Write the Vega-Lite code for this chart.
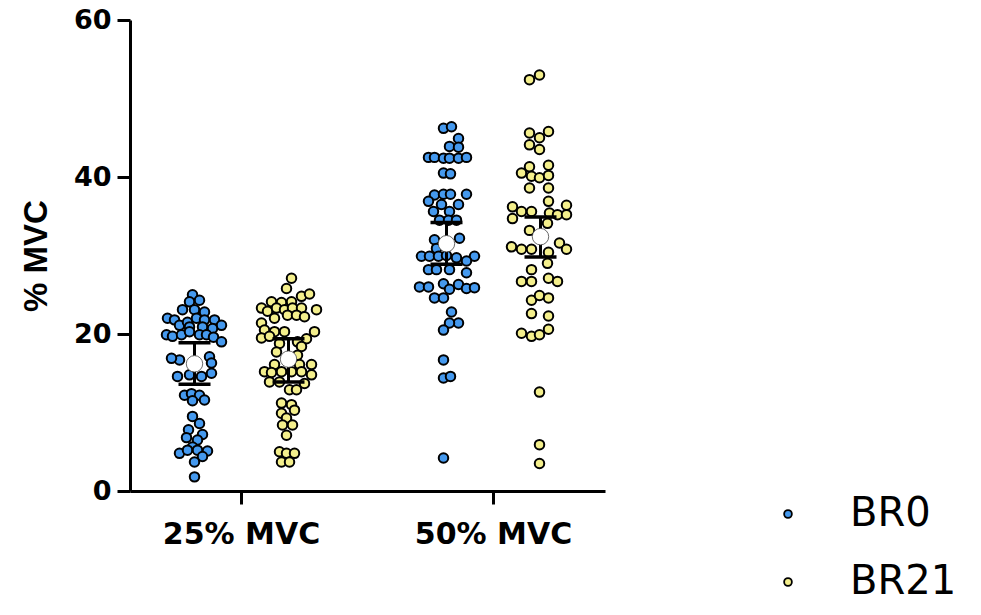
{
  "$schema": "https://vega.github.io/schema/vega-lite/v6.json",
  "autosize": "none",
  "padding": {"left": 130, "top": 20, "right": 376, "bottom": 124},
  "width": 475,
  "height": 471,
  "background": "white",
  "config": {
    "view": {"stroke": null},
    "font": "DejaVu Sans",
    "axis": {"domainColor": "black", "tickColor": "black", "labelColor": "black", "titleColor": "black", "domainWidth": 3, "tickWidth": 3, "grid": false, "labelFont": "DejaVu Sans", "titleFont": "Liberation Sans", "labelFontWeight": "bold", "titleFontWeight": "bold"}
  },
  "datasets": {
    "pts": [
      {"c":"25% MVC","g":"BR0","v":25.0,"j":-0.2},{"c":"25% MVC","g":"BR0","v":24.3,"j":0.5},{"c":"25% MVC","g":"BR0","v":24.1,"j":-0.5},
      {"c":"25% MVC","g":"BR0","v":23.1,"j":-1.2},{"c":"25% MVC","g":"BR0","v":23.1,"j":0},{"c":"25% MVC","g":"BR0","v":22.8,"j":1.0},
      {"c":"25% MVC","g":"BR0","v":22.0,"j":-2.7},{"c":"25% MVC","g":"BR0","v":21.8,"j":-2.0},{"c":"25% MVC","g":"BR0","v":21.1,"j":-1.5},
      {"c":"25% MVC","g":"BR0","v":21.5,"j":-0.7},{"c":"25% MVC","g":"BR0","v":22.0,"j":0.2},{"c":"25% MVC","g":"BR0","v":21.8,"j":1.0},
      {"c":"25% MVC","g":"BR0","v":21.8,"j":2.0},{"c":"25% MVC","g":"BR0","v":21.1,"j":2.7},{"c":"25% MVC","g":"BR0","v":20.7,"j":1.8},
      {"c":"25% MVC","g":"BR0","v":20.9,"j":0.8},{"c":"25% MVC","g":"BR0","v":20.9,"j":-0.5},{"c":"25% MVC","g":"BR0","v":19.9,"j":-2.8},
      {"c":"25% MVC","g":"BR0","v":19.7,"j":-2.2},{"c":"25% MVC","g":"BR0","v":19.9,"j":-1.3},{"c":"25% MVC","g":"BR0","v":20.3,"j":-0.5},
      {"c":"25% MVC","g":"BR0","v":19.9,"j":0.5},{"c":"25% MVC","g":"BR0","v":19.9,"j":1.2},{"c":"25% MVC","g":"BR0","v":19.6,"j":1.9},
      {"c":"25% MVC","g":"BR0","v":19.0,"j":2.7},{"c":"25% MVC","g":"BR0","v":16.7,"j":-1.5},{"c":"25% MVC","g":"BR0","v":16.9,"j":-2.3},
      {"c":"25% MVC","g":"BR0","v":17.1,"j":1.5},{"c":"25% MVC","g":"BR0","v":16.3,"j":1.7},{"c":"25% MVC","g":"BR0","v":14.6,"j":-1.7},
      {"c":"25% MVC","g":"BR0","v":14.8,"j":-0.5},{"c":"25% MVC","g":"BR0","v":14.6,"j":0.7},{"c":"25% MVC","g":"BR0","v":15.0,"j":1.7},
      {"c":"25% MVC","g":"BR0","v":12.2,"j":-1.0},{"c":"25% MVC","g":"BR0","v":12.4,"j":-0.3},{"c":"25% MVC","g":"BR0","v":12.2,"j":0.5},
      {"c":"25% MVC","g":"BR0","v":11.6,"j":1.0},{"c":"25% MVC","g":"BR0","v":11.5,"j":-0.2},{"c":"25% MVC","g":"BR0","v":9.5,"j":-0.2},
      {"c":"25% MVC","g":"BR0","v":8.6,"j":0.5},{"c":"25% MVC","g":"BR0","v":7.8,"j":-0.6},{"c":"25% MVC","g":"BR0","v":7.2,"j":0.8},
      {"c":"25% MVC","g":"BR0","v":6.8,"j":-0.8},{"c":"25% MVC","g":"BR0","v":6.5,"j":0.3},{"c":"25% MVC","g":"BR0","v":5.6,"j":-0.2},
      {"c":"25% MVC","g":"BR0","v":4.8,"j":-1.5},{"c":"25% MVC","g":"BR0","v":5.2,"j":-0.7},{"c":"25% MVC","g":"BR0","v":5.2,"j":0.3},
      {"c":"25% MVC","g":"BR0","v":5.1,"j":1.3},{"c":"25% MVC","g":"BR0","v":4.4,"j":0.8},{"c":"25% MVC","g":"BR0","v":3.7,"j":0},
      {"c":"25% MVC","g":"BR0","v":1.8,"j":0},

      {"c":"25% MVC","g":"BR21","v":27.1,"j":0.3},{"c":"25% MVC","g":"BR21","v":25.8,"j":-0.2},{"c":"25% MVC","g":"BR21","v":24.8,"j":1.3},
      {"c":"25% MVC","g":"BR21","v":25.1,"j":2.1},{"c":"25% MVC","g":"BR21","v":24.1,"j":-1.7},{"c":"25% MVC","g":"BR21","v":24.0,"j":-0.7},
      {"c":"25% MVC","g":"BR21","v":24.1,"j":0.3},{"c":"25% MVC","g":"BR21","v":23.3,"j":-2.7},{"c":"25% MVC","g":"BR21","v":22.9,"j":-2.1},
      {"c":"25% MVC","g":"BR21","v":23.3,"j":-1.2},{"c":"25% MVC","g":"BR21","v":23.1,"j":-0.4},{"c":"25% MVC","g":"BR21","v":23.3,"j":0.4},
      {"c":"25% MVC","g":"BR21","v":23.3,"j":1.3},{"c":"25% MVC","g":"BR21","v":23.1,"j":2.8},{"c":"25% MVC","g":"BR21","v":22.4,"j":-0.1},
      {"c":"25% MVC","g":"BR21","v":22.4,"j":0.8},{"c":"25% MVC","g":"BR21","v":22.2,"j":1.6},{"c":"25% MVC","g":"BR21","v":22.0,"j":-1.4},
      {"c":"25% MVC","g":"BR21","v":21.4,"j":-2.7},{"c":"25% MVC","g":"BR21","v":20.5,"j":-2.4},{"c":"25% MVC","g":"BR21","v":20.3,"j":-1.4},
      {"c":"25% MVC","g":"BR21","v":20.3,"j":-0.4},{"c":"25% MVC","g":"BR21","v":19.4,"j":1.8},{"c":"25% MVC","g":"BR21","v":20.3,"j":2.6},
      {"c":"25% MVC","g":"BR21","v":19.5,"j":-2.7},{"c":"25% MVC","g":"BR21","v":19.7,"j":-1.9},{"c":"25% MVC","g":"BR21","v":18.8,"j":-0.9},
      {"c":"25% MVC","g":"BR21","v":19.0,"j":0.9},{"c":"25% MVC","g":"BR21","v":18.4,"j":1.3},{"c":"25% MVC","g":"BR21","v":17.7,"j":-1.2},
      {"c":"25% MVC","g":"BR21","v":17.3,"j":0.9},{"c":"25% MVC","g":"BR21","v":16.1,"j":-1.4},{"c":"25% MVC","g":"BR21","v":16.1,"j":1.1},
      {"c":"25% MVC","g":"BR21","v":16.1,"j":2.3},{"c":"25% MVC","g":"BR21","v":15.2,"j":-2.4},{"c":"25% MVC","g":"BR21","v":15.1,"j":-1.7},
      {"c":"25% MVC","g":"BR21","v":15.2,"j":-0.7},{"c":"25% MVC","g":"BR21","v":15.2,"j":0.3},{"c":"25% MVC","g":"BR21","v":15.2,"j":1.3},
      {"c":"25% MVC","g":"BR21","v":14.8,"j":2.3},{"c":"25% MVC","g":"BR21","v":13.9,"j":-1.9},{"c":"25% MVC","g":"BR21","v":13.9,"j":-0.9},
      {"c":"25% MVC","g":"BR21","v":12.9,"j":0.1},{"c":"25% MVC","g":"BR21","v":12.9,"j":0.8},{"c":"25% MVC","g":"BR21","v":13.7,"j":1.6},
      {"c":"25% MVC","g":"BR21","v":11.2,"j":-0.7},{"c":"25% MVC","g":"BR21","v":11.0,"j":0.3},{"c":"25% MVC","g":"BR21","v":9.9,"j":-0.7},
      {"c":"25% MVC","g":"BR21","v":10.3,"j":0.6},{"c":"25% MVC","g":"BR21","v":9.3,"j":-0.2},{"c":"25% MVC","g":"BR21","v":8.4,"j":-0.6},
      {"c":"25% MVC","g":"BR21","v":8.4,"j":0.4},{"c":"25% MVC","g":"BR21","v":7.1,"j":-0.2},{"c":"25% MVC","g":"BR21","v":5.0,"j":-0.9},
      {"c":"25% MVC","g":"BR21","v":4.8,"j":-0.2},{"c":"25% MVC","g":"BR21","v":4.8,"j":0.6},{"c":"25% MVC","g":"BR21","v":3.7,"j":-0.7},
      {"c":"25% MVC","g":"BR21","v":3.7,"j":0.1},

      {"c":"50% MVC","g":"BR0","v":46.2,"j":-0.3},{"c":"50% MVC","g":"BR0","v":46.4,"j":0.5},{"c":"50% MVC","g":"BR0","v":44.9,"j":1.2},
      {"c":"50% MVC","g":"BR0","v":43.9,"j":0.3},{"c":"50% MVC","g":"BR0","v":43.8,"j":1.2},{"c":"50% MVC","g":"BR0","v":42.5,"j":-1.8},
      {"c":"50% MVC","g":"BR0","v":42.5,"j":-1.2},{"c":"50% MVC","g":"BR0","v":42.4,"j":-0.3},{"c":"50% MVC","g":"BR0","v":42.4,"j":0.3},
      {"c":"50% MVC","g":"BR0","v":42.4,"j":1.2},{"c":"50% MVC","g":"BR0","v":42.5,"j":2.0},{"c":"50% MVC","g":"BR0","v":40.5,"j":-0.3},
      {"c":"50% MVC","g":"BR0","v":40.4,"j":0.4},{"c":"50% MVC","g":"BR0","v":37.7,"j":-1.2},{"c":"50% MVC","g":"BR0","v":37.8,"j":-0.3},
      {"c":"50% MVC","g":"BR0","v":37.8,"j":0.4},{"c":"50% MVC","g":"BR0","v":37.8,"j":2.0},{"c":"50% MVC","g":"BR0","v":36.9,"j":-1.8},
      {"c":"50% MVC","g":"BR0","v":36.5,"j":-0.5},{"c":"50% MVC","g":"BR0","v":36.5,"j":1.2},{"c":"50% MVC","g":"BR0","v":35.6,"j":-1.3},
      {"c":"50% MVC","g":"BR0","v":35.6,"j":0.3},{"c":"50% MVC","g":"BR0","v":34.5,"j":-0.7},{"c":"50% MVC","g":"BR0","v":34.5,"j":0.2},
      {"c":"50% MVC","g":"BR0","v":34.5,"j":1.0},{"c":"50% MVC","g":"BR0","v":32.2,"j":1.3},{"c":"50% MVC","g":"BR0","v":32.0,"j":-1.2},
      {"c":"50% MVC","g":"BR0","v":30.9,"j":-1.0},{"c":"50% MVC","g":"BR0","v":29.9,"j":-2.5},{"c":"50% MVC","g":"BR0","v":29.9,"j":-1.7},
      {"c":"50% MVC","g":"BR0","v":29.9,"j":-0.8},{"c":"50% MVC","g":"BR0","v":30.0,"j":0},{"c":"50% MVC","g":"BR0","v":29.7,"j":1.0},
      {"c":"50% MVC","g":"BR0","v":29.9,"j":2.8},{"c":"50% MVC","g":"BR0","v":29.3,"j":2.0},{"c":"50% MVC","g":"BR0","v":28.2,"j":-1.8},
      {"c":"50% MVC","g":"BR0","v":28.2,"j":-1.0},{"c":"50% MVC","g":"BR0","v":28.2,"j":0.3},{"c":"50% MVC","g":"BR0","v":27.8,"j":2.0},
      {"c":"50% MVC","g":"BR0","v":26.0,"j":-2.7},{"c":"50% MVC","g":"BR0","v":26.0,"j":-1.8},{"c":"50% MVC","g":"BR0","v":26.4,"j":-0.3},
      {"c":"50% MVC","g":"BR0","v":26.3,"j":1.2},{"c":"50% MVC","g":"BR0","v":25.8,"j":2.0},{"c":"50% MVC","g":"BR0","v":25.9,"j":2.8},
      {"c":"50% MVC","g":"BR0","v":25.7,"j":0.3},{"c":"50% MVC","g":"BR0","v":24.6,"j":-1.2},{"c":"50% MVC","g":"BR0","v":24.6,"j":-0.3},
      {"c":"50% MVC","g":"BR0","v":22.8,"j":0.5},{"c":"50% MVC","g":"BR0","v":21.4,"j":1.2},{"c":"50% MVC","g":"BR0","v":21.4,"j":0.3},
      {"c":"50% MVC","g":"BR0","v":20.5,"j":-0.3},{"c":"50% MVC","g":"BR0","v":16.7,"j":-0.3},{"c":"50% MVC","g":"BR0","v":14.4,"j":-0.3},
      {"c":"50% MVC","g":"BR0","v":14.6,"j":0.4},{"c":"50% MVC","g":"BR0","v":4.2,"j":-0.3},

      {"c":"50% MVC","g":"BR21","v":52.4,"j":-1.1},{"c":"50% MVC","g":"BR21","v":53.0,"j":-0.1},{"c":"50% MVC","g":"BR21","v":45.6,"j":-1.1},
      {"c":"50% MVC","g":"BR21","v":45.0,"j":-0.1},{"c":"50% MVC","g":"BR21","v":45.8,"j":0.8},{"c":"50% MVC","g":"BR21","v":44.1,"j":-1.1},
      {"c":"50% MVC","g":"BR21","v":43.5,"j":-0.1},{"c":"50% MVC","g":"BR21","v":40.5,"j":-1.9},{"c":"50% MVC","g":"BR21","v":41.3,"j":-1.1},
      {"c":"50% MVC","g":"BR21","v":40.1,"j":-0.9},{"c":"50% MVC","g":"BR21","v":39.9,"j":-0.1},{"c":"50% MVC","g":"BR21","v":41.5,"j":0.8},
      {"c":"50% MVC","g":"BR21","v":40.2,"j":0.8},{"c":"50% MVC","g":"BR21","v":38.6,"j":-1.1},{"c":"50% MVC","g":"BR21","v":38.6,"j":0.8},
      {"c":"50% MVC","g":"BR21","v":36.9,"j":0.8},{"c":"50% MVC","g":"BR21","v":36.2,"j":-2.8},{"c":"50% MVC","g":"BR21","v":35.6,"j":-1.9},
      {"c":"50% MVC","g":"BR21","v":35.6,"j":-0.9},{"c":"50% MVC","g":"BR21","v":35.4,"j":0.9},{"c":"50% MVC","g":"BR21","v":35.2,"j":1.7},
      {"c":"50% MVC","g":"BR21","v":36.4,"j":2.6},{"c":"50% MVC","g":"BR21","v":35.2,"j":2.6},{"c":"50% MVC","g":"BR21","v":34.7,"j":-2.8},
      {"c":"50% MVC","g":"BR21","v":34.1,"j":0.7},{"c":"50% MVC","g":"BR21","v":33.2,"j":-1.1},{"c":"50% MVC","g":"BR21","v":31.6,"j":1.9},
      {"c":"50% MVC","g":"BR21","v":31.1,"j":-2.9},{"c":"50% MVC","g":"BR21","v":30.8,"j":-1.9},{"c":"50% MVC","g":"BR21","v":30.8,"j":-0.9},
      {"c":"50% MVC","g":"BR21","v":30.4,"j":0.8},{"c":"50% MVC","g":"BR21","v":30.8,"j":2.6},{"c":"50% MVC","g":"BR21","v":29.0,"j":0.7},
      {"c":"50% MVC","g":"BR21","v":28.2,"j":-0.9},{"c":"50% MVC","g":"BR21","v":26.7,"j":-1.9},{"c":"50% MVC","g":"BR21","v":26.7,"j":-0.9},
      {"c":"50% MVC","g":"BR21","v":27.1,"j":0.8},{"c":"50% MVC","g":"BR21","v":26.7,"j":1.7},{"c":"50% MVC","g":"BR21","v":24.3,"j":-0.9},
      {"c":"50% MVC","g":"BR21","v":24.9,"j":-0.1},{"c":"50% MVC","g":"BR21","v":24.6,"j":0.8},{"c":"50% MVC","g":"BR21","v":22.6,"j":-0.9},
      {"c":"50% MVC","g":"BR21","v":22.3,"j":0.8},{"c":"50% MVC","g":"BR21","v":20.1,"j":-1.9},{"c":"50% MVC","g":"BR21","v":19.7,"j":-0.9},
      {"c":"50% MVC","g":"BR21","v":19.9,"j":-0.1},{"c":"50% MVC","g":"BR21","v":20.6,"j":0.8},{"c":"50% MVC","g":"BR21","v":12.6,"j":-0.1},
      {"c":"50% MVC","g":"BR21","v":5.9,"j":-0.1},{"c":"50% MVC","g":"BR21","v":3.5,"j":-0.1}
    ],
    "summ": [
      {"c":"25% MVC","g":"BR0","mean":16.2,"lo":13.6,"hi":18.9,"j":0},
      {"c":"25% MVC","g":"BR21","mean":16.8,"lo":13.9,"hi":19.4,"j":0},
      {"c":"50% MVC","g":"BR0","mean":31.5,"lo":28.9,"hi":34.2,"j":0},
      {"c":"50% MVC","g":"BR21","mean":32.4,"lo":29.8,"hi":34.9,"j":0}
    ]
  },
  "encoding": {
    "x": {"field": "c", "type": "nominal", "sort": ["25% MVC", "50% MVC"],
      "scale": {"type": "band", "paddingInner": 0.115, "paddingOuter": 0},
      "axis": {"title": null, "labelAngle": 0, "labelFontSize": 30, "tickSize": 13, "labelPadding": 15}},
    "xOffset": {"field": "o", "type": "quantitative", "scale": {"domain": [-11.15, 11.15]}}
  },
  "layer": [
    {
      "data": {"name": "pts"},
      "transform": [{"calculate": "datum.j + (datum.g == 'BR0' ? -4.7 : 4.7)", "as": "o"}],
      "mark": {"type": "circle", "size": 90, "stroke": "black", "strokeWidth": 2, "opacity": 1},
      "encoding": {
        "y": {"field": "v", "type": "quantitative", "scale": {"domain": [0, 60], "nice": false},
          "axis": {"title": "% MVC", "values": [0, 20, 40, 60], "labelFontSize": 27, "titleFontSize": 33, "tickSize": 13, "labelPadding": 6, "titlePadding": 20}},
        "color": {"field": "g", "type": "nominal",
          "scale": {"domain": ["BR0", "BR21"], "range": ["#4599EE", "#F4EF8C"]},
          "legend": {"title": null, "orient": "none", "legendX": 638, "legendY": 474, "symbolType": "circle", "symbolSize": 60, "symbolStrokeColor": "black", "symbolStrokeWidth": 1.8, "symbolOpacity": 1, "labelFontSize": 40, "labelFont": "DejaVu Sans", "labelFontWeight": "normal", "labelColor": "black", "labelOffset": 42, "rowPadding": 28}}
      }
    },
    {
      "data": {"name": "summ"},
      "transform": [{"calculate": "datum.j + (datum.g == 'BR0' ? -4.7 : 4.7)", "as": "o"}],
      "mark": {"type": "rule", "color": "black", "strokeWidth": 3},
      "encoding": {"y": {"field": "lo", "type": "quantitative"}, "y2": {"field": "hi"}}
    },
    {
      "data": {"name": "summ"},
      "transform": [{"calculate": "datum.j + (datum.g == 'BR0' ? -4.7 : 4.7)", "as": "o"}],
      "mark": {"type": "tick", "color": "black", "size": 32, "thickness": 3.5, "opacity": 1},
      "encoding": {"y": {"field": "lo", "type": "quantitative"}}
    },
    {
      "data": {"name": "summ"},
      "transform": [{"calculate": "datum.j + (datum.g == 'BR0' ? -4.7 : 4.7)", "as": "o"}],
      "mark": {"type": "tick", "color": "black", "size": 32, "thickness": 3.5, "opacity": 1},
      "encoding": {"y": {"field": "hi", "type": "quantitative"}}
    },
    {
      "data": {"name": "summ"},
      "transform": [{"calculate": "datum.j + (datum.g == 'BR0' ? -4.7 : 4.7)", "as": "o"}],
      "mark": {"type": "circle", "size": 270, "color": "white", "stroke": "#444", "strokeWidth": 0.8, "opacity": 1},
      "encoding": {"y": {"field": "mean", "type": "quantitative"}}
    }
  ]
}
